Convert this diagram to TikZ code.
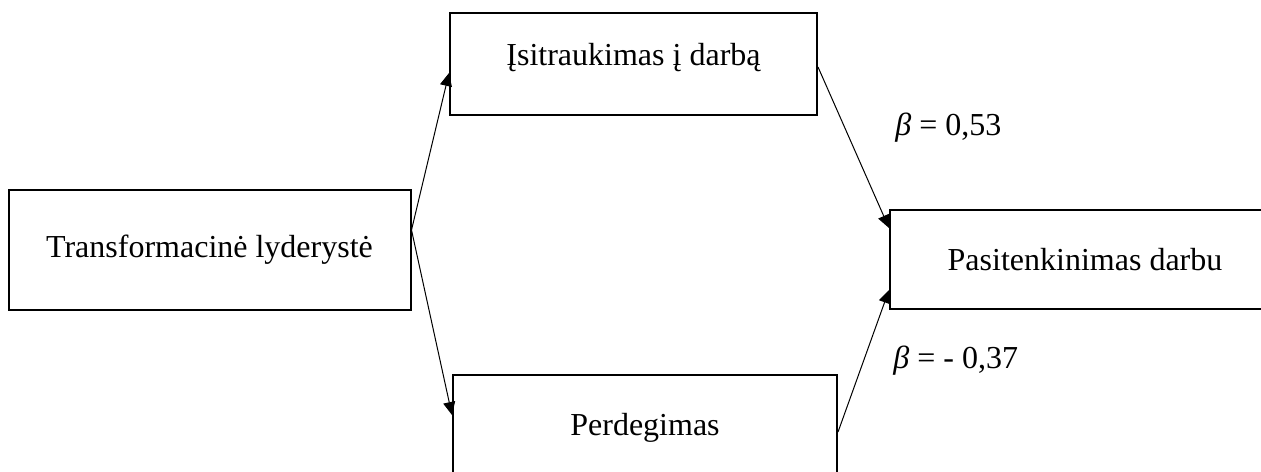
\documentclass[tikz,border=0pt]{standalone}
\usepackage{fontspec}
\setmainfont{Liberation Serif}
\usetikzlibrary{arrows.meta}

\tikzset{
	box/.style={draw, line width=1pt, rectangle, inner sep=0pt},
	link/.style={-{Triangle[length=6.5pt,width=6pt]}, line width=0.5pt},
	coef/.style={anchor=base west, inner sep=0pt}
}

\begin{document}
\begin{tikzpicture}[x=0.5pt, y=-0.5pt, font=\fontsize{16}{19}\selectfont]

\clip (0,0) rectangle (1261,471);

% the four variables
\node[box, minimum width=201pt, minimum height=60pt] (lead) at (209.5,250) {Transformacinė lyderystė};
\node[box, minimum width=183.5pt, minimum height=51pt, text height=10pt, text depth=9pt] (engage) at (633.5,64) {Įsitraukimas į darbą};
\node[box, minimum width=192pt, minimum height=60pt, text height=10pt, text depth=10pt] (burnout) at (645,435) {Perdegimas};
\node[box, minimum width=195pt, minimum height=49.5pt] (satis) at (1085,259.5) {Pasitenkinimas darbu};

% paths
\draw[link] ([yshift=10pt]lead.east) -- ([yshift=-4.5pt]engage.west);
\draw[link] ([yshift=10pt]lead.east) -- ([yshift=10pt]burnout.west);
\draw[link] ([yshift=-1.5pt]engage.east) -- ([yshift=15.75pt]satis.west);
\draw[link] ([yshift=1.5pt]burnout.east) -- ([yshift=-15.25pt]satis.west);

% coefficients
\node[coef] (b1) at (895,135) {\textit{β} = 0,53};
\node[coef] (b2) at (893,368) {\textit{β} = - 0,37};

\end{tikzpicture}
\end{document}
